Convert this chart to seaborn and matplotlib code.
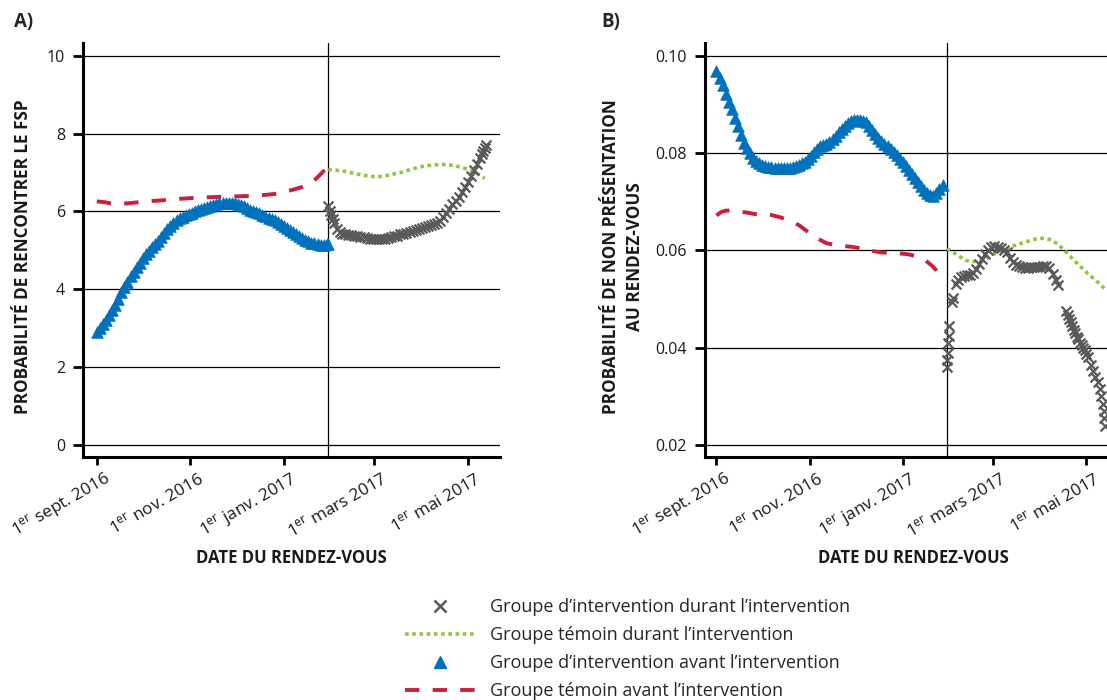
import numpy as np
import pandas as pd
import matplotlib
matplotlib.use("Agg")
import matplotlib.pyplot as plt
import matplotlib.transforms as mtransforms
from matplotlib.lines import Line2D
from matplotlib.legend_handler import HandlerLine2D
import seaborn as sns

# ---------------- data (days since 1 Sept 2016, values) ----------------
BASE_DATE = "2016-09-01"
INTERVENTION_DAY = 151  # 30 Jan 2017

# Panel A : probability of meeting the FSP
a_int_before_days = [0, 2, 4, 6, 8, 10, 12, 14, 16, 18, 20, 22, 24, 26, 28, 30, 32, 34, 36, 38, 40,
                     42, 44, 46, 48, 50, 52, 54, 56, 58, 60, 62, 64, 66, 68, 70, 72, 74, 76, 78, 80,
                     82, 84, 86, 88, 90, 92, 94, 96, 98, 100, 102, 104, 106, 108, 110, 112, 114, 116,
                     118, 120, 122, 124, 126, 128, 130, 132, 134, 136, 138, 140, 142, 144, 146, 148,
                     150, 151]
a_int_before_vals = [2.9, 3.0, 3.12, 3.22, 3.33, 3.46, 3.6, 3.76, 3.92, 4.06, 4.2, 4.33, 4.45, 4.57,
                     4.68, 4.8, 4.9, 4.99, 5.08, 5.16, 5.25, 5.35, 5.45, 5.54, 5.62, 5.7, 5.77, 5.82,
                     5.86, 5.9, 5.93, 5.97, 6.0, 6.03, 6.06, 6.09, 6.12, 6.15, 6.17, 6.19, 6.21, 6.22,
                     6.22, 6.22, 6.22, 6.21, 6.19, 6.16, 6.13, 6.09, 6.05, 6.01, 5.98, 5.95, 5.92,
                     5.88, 5.84, 5.81, 5.77, 5.73, 5.68, 5.63, 5.58, 5.53, 5.47, 5.42, 5.37, 5.32,
                     5.27, 5.23, 5.2, 5.18, 5.16, 5.15, 5.15, 5.16, 5.17]

a_ctl_before_days = [0, 5, 10, 15, 20, 28, 36, 44, 52, 60, 68, 76, 84, 92, 100, 108, 116, 122, 128,
                     134, 139, 143, 147, 150]
a_ctl_before_vals = [6.26, 6.24, 6.2, 6.19, 6.21, 6.24, 6.27, 6.29, 6.32, 6.34, 6.36, 6.37, 6.38,
                     6.39, 6.4, 6.42, 6.45, 6.5, 6.56, 6.63, 6.72, 6.84, 7.0, 7.12]

a_ctl_during_days = [151, 156, 162, 168, 174, 180, 186, 192, 198, 204, 210, 216, 222, 228, 234, 240,
                     246, 250, 253]
a_ctl_during_vals = [7.08, 7.06, 7.03, 6.98, 6.93, 6.9, 6.9, 6.95, 7.0, 7.07, 7.14, 7.18, 7.2, 7.21,
                     7.17, 7.11, 7.01, 6.93, 6.85]

a_int_during_days = [151, 152, 153, 154, 155, 157, 158.5, 160, 162, 164, 166, 168, 170, 172, 174, 176,
                     178, 180, 182, 184, 186, 188, 190, 192, 194, 196, 198, 200, 202, 204, 206, 208,
                     210, 212, 214, 216, 218, 220, 222, 224, 226, 228, 230, 232, 234, 236, 238, 240,
                     242, 244, 246, 248, 250, 251, 252, 253, 254]
a_int_during_vals = [6.15, 6.02, 5.9, 5.8, 5.7, 5.55, 5.48, 5.43, 5.41, 5.4, 5.39, 5.38, 5.37, 5.35,
                     5.34, 5.32, 5.3, 5.29, 5.28, 5.28, 5.29, 5.3, 5.32, 5.34, 5.36, 5.38, 5.41,
                     5.43, 5.45, 5.48, 5.51, 5.53, 5.55, 5.57, 5.6, 5.62, 5.64, 5.67, 5.7, 5.76,
                     5.85, 5.96, 6.07, 6.18, 6.28, 6.38, 6.5, 6.63, 6.77, 6.9, 7.07, 7.23, 7.38,
                     7.47, 7.55, 7.63, 7.72]

# Panel B : probability of no-show
b_int_before_days = [0, 2, 4, 6, 8, 10, 12, 14, 16, 18, 20, 22, 24, 26, 28, 30, 32, 34, 36, 38, 40,
                     42, 44, 46, 48, 50, 52, 54, 56, 58, 60, 62, 64, 66, 68, 70, 72, 74, 76, 78, 80,
                     82, 84, 86, 88, 90, 92, 94, 96, 98, 100, 102, 104, 106, 108, 110, 112, 114, 116,
                     118, 120, 122, 124, 126, 128, 130, 132, 134, 136, 138, 140, 142, 144, 146, 148]
b_int_before_vals = [0.097, 0.0955, 0.094, 0.0922, 0.0905, 0.089, 0.0872, 0.0855, 0.0838, 0.0822,
                     0.081, 0.08, 0.0791, 0.0784, 0.0779, 0.0776, 0.0774, 0.0772, 0.0771, 0.077,
                     0.0769, 0.0769, 0.0769, 0.0769, 0.077, 0.0771, 0.0773, 0.0776, 0.0779, 0.0783,
                     0.0789, 0.0795, 0.0802, 0.0808, 0.0814, 0.0817, 0.082, 0.0823, 0.0829, 0.0836,
                     0.0843, 0.085, 0.0857, 0.0862, 0.0866, 0.0868, 0.0869, 0.0868, 0.0867, 0.0864,
                     0.0857, 0.0848, 0.084, 0.0832, 0.0826, 0.082, 0.0814, 0.0808, 0.0802, 0.0796,
                     0.0789, 0.0782, 0.0774, 0.0766, 0.0758, 0.075, 0.0741, 0.0733, 0.0725, 0.0718,
                     0.0714, 0.0713, 0.0718, 0.0727, 0.0735]

b_ctl_before_days = [0, 3, 6, 10, 15, 20, 25, 30, 36, 42, 48, 54, 60, 66, 72, 78, 84, 90, 96, 102,
                     108, 114, 120, 126, 132, 137, 141, 144, 146, 148]
b_ctl_before_vals = [0.0672, 0.0679, 0.0682, 0.0682, 0.068, 0.0678, 0.0675, 0.0674, 0.0673, 0.0668,
                     0.0661, 0.0652, 0.0638, 0.0625, 0.0615, 0.0611, 0.0609, 0.0607, 0.0603, 0.0599,
                     0.0596, 0.0595, 0.0594, 0.0592, 0.0587, 0.0579, 0.0569, 0.0559, 0.055, 0.054]

b_ctl_during_days = [151, 155, 159, 163, 167, 171, 175, 179, 183, 187, 191, 195, 199, 203, 207, 211,
                     215, 219, 223, 227, 231, 235, 239, 243, 247, 251, 254]
b_ctl_during_vals = [0.0604, 0.0596, 0.0588, 0.058, 0.0577, 0.0578, 0.0582, 0.0588, 0.0595, 0.06,
                     0.0605, 0.061, 0.0614, 0.0618, 0.0622, 0.0625, 0.0625, 0.0622, 0.0614, 0.0603,
                     0.059, 0.0577, 0.0565, 0.0553, 0.0542, 0.0531, 0.0522]

b_int_during_days = [151, 151, 151.5, 151.5, 152, 152.5, 154.5, 155, 157, 158, 160, 162, 164, 166,
                     168, 170, 172, 174, 176, 178, 180, 182, 184, 186, 188, 190, 192, 194, 196, 198,
                     200, 202, 204, 206, 208, 210, 212, 214, 216, 218, 220, 222, 223.5, 229, 230, 231,
                     232, 233, 234, 235, 236, 237, 238, 239, 240, 241, 242, 243, 245, 246.5, 248,
                     249.5, 251, 252, 253, 253.5, 254, 254.5]
b_int_during_vals = [0.036, 0.0375, 0.039, 0.041, 0.0425, 0.0445, 0.0495, 0.0503, 0.0532, 0.054,
                     0.0545, 0.0548, 0.0549, 0.055, 0.0553, 0.0562, 0.0572, 0.0582, 0.0592, 0.0602,
                     0.0608, 0.061, 0.0608, 0.0606, 0.0602, 0.0596, 0.0584, 0.0576, 0.0571, 0.0568,
                     0.0566, 0.0565, 0.0565, 0.0566, 0.0566, 0.0567, 0.0567, 0.0568, 0.0569, 0.0565,
                     0.0552, 0.054, 0.0528, 0.0476, 0.0468, 0.046, 0.0452, 0.0444, 0.0437, 0.043,
                     0.0423, 0.0417, 0.041, 0.0405, 0.04, 0.0395, 0.0388, 0.0381, 0.0364, 0.0353,
                     0.034, 0.033, 0.0315, 0.03, 0.0285, 0.027, 0.0255, 0.024]

tick_dates = ["2016-09-01", "2016-11-01", "2017-01-01", "2017-03-01", "2017-05-01"]
tick_labels = [r"1$^{\mathrm{er}}$ sept. 2016", r"1$^{\mathrm{er}}$ nov. 2016",
               r"1$^{\mathrm{er}}$ janv. 2017", r"1$^{\mathrm{er}}$ mars 2017",
               r"1$^{\mathrm{er}}$ mai 2017"]
a_yticks = [0, 2, 4, 6, 8, 10]
a_yticklabels = ["0", "2", "4", "6", "8", "10"]
b_yticks = [0.02, 0.04, 0.06, 0.08, 0.10]
b_yticklabels = ["0.02", "0.04", "0.06", "0.08", "0.10"]

legend_labels = ["Groupe d’intervention durant l’intervention",
                 "Groupe témoin durant l’intervention",
                 "Groupe d’intervention avant l’intervention",
                 "Groupe témoin avant l’intervention"]

# ---------------- style ----------------
BLUE = "#0071BC"
RED = "#C8203A"
GREEN = "#8DC63F"
GRAY = "#58595B"
TXT = "#1a1a1a"
FONT = "Open Sans"

sns.set_theme(style="white")
plt.rcParams["font.family"] = [FONT, "DejaVu Sans"]
plt.rcParams["mathtext.fontset"] = "custom"
plt.rcParams["mathtext.rm"] = FONT
plt.rcParams["mathtext.it"] = FONT + ":italic"
plt.rcParams["mathtext.bf"] = FONT + ":bold"

base = pd.Timestamp(BASE_DATE)


def to_dates(days):
    return base + pd.to_timedelta(np.asarray(days, dtype=float), unit="D")


fig = plt.figure(figsize=(11.07, 7.0), dpi=100)
W, H = 1107.0, 700.0
axA = fig.add_axes([83 / W, 1 - 457 / H, 417 / W, 414 / H])
axB = fig.add_axes([705 / W, 1 - 457 / H, 417 / W, 414 / H])

DASH = (0, (3.7, 3.4))
DOT = (0, (1.0, 1.0))


def draw(ax, ib_d, ib_v, cb_d, cb_v, cd_d, cd_v, id_d, id_v, xlo, xhi, ylim, yticks, yticklabels):
    sns.lineplot(x=to_dates(cb_d), y=cb_v, ax=ax, color=RED, lw=2.8, linestyle=DASH,
                 errorbar=None, zorder=3)
    sns.lineplot(x=to_dates(cd_d), y=cd_v, ax=ax, color=GREEN, lw=2.6, linestyle=DOT,
                 errorbar=None, zorder=3)
    sns.scatterplot(x=to_dates(ib_d), y=ib_v, ax=ax, marker="^", s=70, color=BLUE,
                    edgecolor=BLUE, linewidth=0.5, zorder=4)
    sns.scatterplot(x=to_dates(id_d), y=id_v, ax=ax, marker="x", s=50, color=GRAY,
                    linewidth=1.6, zorder=4)
    ax.set_xlim(to_dates([xlo])[0], to_dates([xhi])[0])
    ax.set_ylim(*ylim)
    ax.set_yticks(yticks)
    ax.set_yticklabels(yticklabels, fontsize=11.5, color=TXT)
    ax.set_xticks(pd.to_datetime(tick_dates))
    ax.set_xticklabels(tick_labels, fontsize=12.3, color=TXT, rotation=30,
                       ha="right", va="center", rotation_mode="anchor")
    for y in yticks:
        ax.axhline(y, color="black", lw=0.9, zorder=1)
    ax.axvline(to_dates([INTERVENTION_DAY])[0], color="black", lw=0.9, zorder=1)
    for s in ["top", "right"]:
        ax.spines[s].set_visible(False)
    for s in ["left", "bottom"]:
        ax.spines[s].set_color("black")
        ax.spines[s].set_linewidth(2.2)
    ax.tick_params(axis="both", direction="out", color="black", length=7, width=2.0,
                   left=True, bottom=True, pad=6)
    ax.tick_params(axis="x", length=6, pad=9)
    # shift the rotated date labels to the right (after tick_params, which resets transforms)
    offset = mtransforms.ScaledTranslation(12 / 100, 0, fig.dpi_scale_trans)
    for lbl in ax.get_xticklabels():
        lbl.set_transform(lbl.get_transform() + offset)
    ax.set_xlabel("DATE DU RENDEZ-VOUS", fontsize=12, fontweight="bold", color=TXT)
    ax.xaxis.set_label_coords(0.5, -0.222)
    ax.set_ylabel("")
    ax.set_facecolor("white")


draw(axA, a_int_before_days, a_int_before_vals, a_ctl_before_days, a_ctl_before_vals,
     a_ctl_during_days, a_ctl_during_vals, a_int_during_days, a_int_during_vals,
     -9, 263, (-0.31, 10.33), a_yticks, a_yticklabels)
draw(axB, b_int_before_days, b_int_before_vals, b_ctl_before_days, b_ctl_before_vals,
     b_ctl_during_days, b_ctl_during_vals, b_int_during_days, b_int_during_vals,
     -7.5, 265.5, (0.01753, 0.10267), b_yticks, b_yticklabels)

# panel letters and y labels
fig.text(14 / W, 1 - 22 / H, "A)", fontsize=13.5, fontweight="bold", va="center", ha="left")
fig.text(601 / W, 1 - 22 / H, "B)", fontsize=13.5, fontweight="bold", va="center", ha="left")
fig.text(23 / W, 1 - 257 / H, "PROBABILITÉ DE RENCONTRER LE FSP", rotation=90,
         fontsize=12.3, fontweight="bold", va="center", ha="center", color=TXT)
fig.text(623 / W, 1 - 257 / H, "PROBABILITÉ DE NON PRÉSENTATION\nAU RENDEZ-VOUS", rotation=90,
         fontsize=12.3, fontweight="bold", va="center", ha="center", color=TXT,
         multialignment="center", linespacing=1.45)


# legend
class RightMarkerHandler(HandlerLine2D):
    def get_xdata(self, legend, xdescent, ydescent, width, height, fontsize):
        xdata = np.array([-xdescent, -xdescent + width])
        return xdata, np.array([-xdescent + width - 0.35 * fontsize])


handles = [
    Line2D([], [], color=GRAY, marker="x", linestyle="none", markersize=8, markeredgewidth=1.8),
    Line2D([], [], color=GREEN, lw=2.6, linestyle=DOT),
    Line2D([], [], color=BLUE, marker="^", linestyle="none", markersize=8),
    Line2D([], [], color=RED, lw=2.8, linestyle=DASH),
]
fig.legend(handles, legend_labels, loc="upper left", bbox_to_anchor=(405 / W, 1 - 598 / H),
           frameon=False, fontsize=13, handlelength=3.85, handletextpad=0.88,
           labelspacing=0.56, borderpad=0, borderaxespad=0,
           handler_map={handles[0]: RightMarkerHandler(), handles[2]: RightMarkerHandler()})

fig.savefig("out.png", dpi=100)
